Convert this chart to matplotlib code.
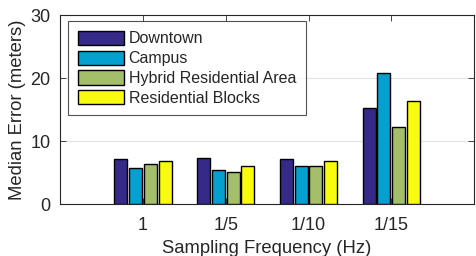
import numpy as np
import matplotlib.pyplot as plt

plt.rcParams['font.family'] = ['Liberation Sans', 'DejaVu Sans']

freqs = ['1', '1/5', '1/10', '1/15']
series = ['Downtown', 'Campus', 'Hybrid Residential Area', 'Residential Blocks']
downtown = [7.2, 7.3, 7.2, 15.2]
campus = [5.8, 5.45, 6.0, 20.8]
hybrid = [6.4, 5.1, 6.0, 12.2]
residential = [6.9, 6.1, 6.9, 16.4]
colors = ['#352a87', '#06a0d0', '#a5be6a', '#f9fb0e']

fig = plt.figure(figsize=(4.77, 2.56), dpi=100)
ax = fig.add_axes([0.126, 0.203, 0.868, 0.738])

x = np.arange(1, len(freqs) + 1)
slot = 0.178
width = 0.157
for i, (name, vals) in enumerate(zip(series, [downtown, campus, hybrid, residential])):
    ax.bar(x + (i - 1.5) * slot, vals, width, color=colors[i], edgecolor='black',
           linewidth=1.0, label=name, zorder=3)

ax.set_xlim(0, 5)
ax.set_ylim(0, 30)
ax.set_xticks(x)
ax.set_xticklabels(freqs)
ax.set_yticks([0, 10, 20, 30])
ax.yaxis.grid(True, color='#e3e3e3', linewidth=0.8, zorder=0)
ax.tick_params(direction='in', top=True, right=True, labelsize=13, length=4,
               width=0.6, color='#262626', labelcolor='#262626')
ax.tick_params(axis='x', pad=9)
ax.tick_params(axis='y', pad=7)
for sp in ax.spines.values():
    sp.set_color('#262626')
    sp.set_linewidth(0.8)
ax.set_xlabel('Sampling Frequency (Hz)', fontsize=13.3, color='#262626', labelpad=5)
ax.set_ylabel('Median Error (meters)', fontsize=13.3, color='#262626', labelpad=3)

leg = ax.legend(loc='upper left', bbox_to_anchor=(0.019, 0.968), fontsize=11.5,
                frameon=True, fancybox=False, edgecolor='#262626',
                handlelength=2.9, handleheight=1.0, labelspacing=0.26,
                borderpad=0.6, handletextpad=0.3, borderaxespad=0)
leg.get_frame().set_linewidth(0.8)
for t in leg.get_texts():
    t.set_color('#262626')

fig.savefig('out.png', dpi=100)
